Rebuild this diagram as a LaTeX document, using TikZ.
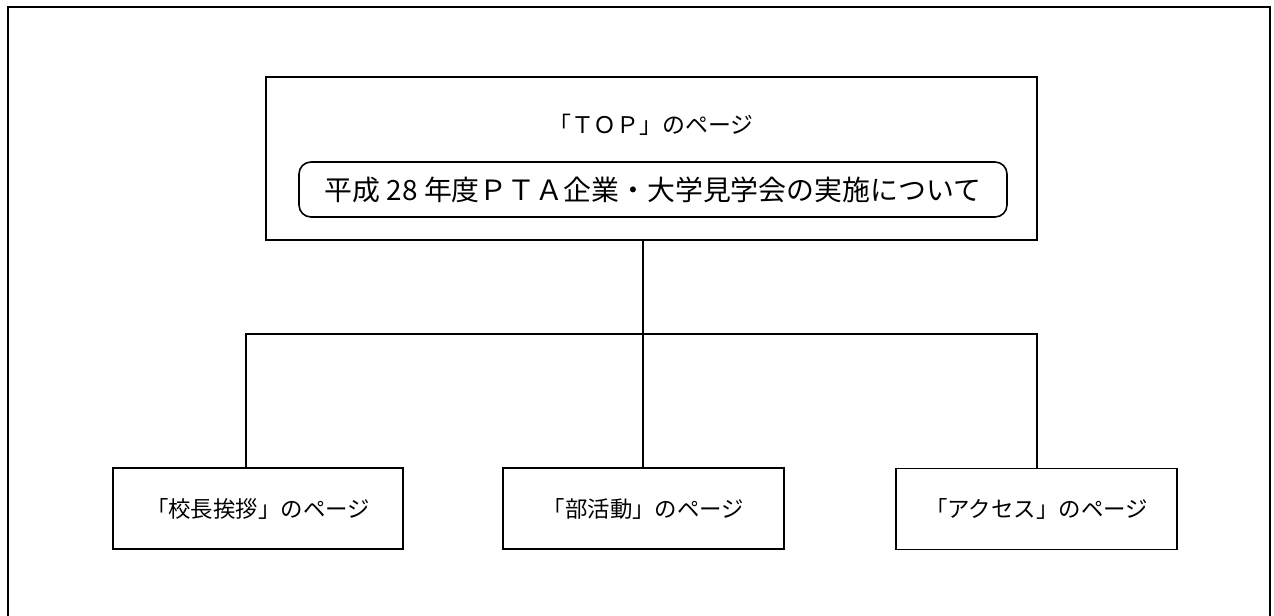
\documentclass[tikz,border=0pt]{standalone}
\usepackage{fontspec}
\newfontfamily\cjk{Noto Sans CJK JP}
\begin{document}
\begin{tikzpicture}[x=1bp,y=-1bp,
  frameline/.style={line width=2.2bp},
  conn/.style={line width=1.8bp},
  pagebox/.style={draw,line width=1.8bp,inner sep=0pt,outer sep=0pt},
  titlebox/.style={draw,line width=1.6bp,rounded corners=12bp,inner sep=0pt,outer sep=0pt},
  bigtext/.style={font=\cjk\fontsize{28}{32}\selectfont},
  midtext/.style={font=\cjk\fontsize{23}{27}\selectfont},
  smalltext/.style={font=\cjk\fontsize{22.5}{26}\selectfont}
]
\useasboundingbox (0,0) rectangle (1274,616);
\fill[white] (0,0) rectangle (1274,616);
% outer frame (open at the bottom edge of the picture)
\coordinate (fbl) at (8,616);
\coordinate (ftl) at (8,7);
\coordinate (ftr) at (1270,7);
\coordinate (fbr) at (1270,616);
\draw[frameline] (fbl) -- (ftl) -- (ftr) -- (fbr);
% top page box
\node[pagebox,minimum width=771bp,minimum height=163bp] (top) at (651.5,158.5) {};
\node[midtext,inner sep=0pt] (toptext) at (651,125) {「ＴＯＰ」のページ};
\node[titlebox,bigtext,minimum width=708bp,minimum height=55bp] (title) at (653,189.5) {平成 28 年度ＰＴＡ企業・大学見学会の実施について};
% child boxes
\node[pagebox,smalltext,minimum width=290bp,minimum height=81bp] (left) at (258,508.5) {「校長挨拶」のページ};
\node[pagebox,smalltext,minimum width=281bp,minimum height=81bp] (mid) at (643.5,508.5) {「部活動」のページ};
\node[pagebox,smalltext,minimum width=281bp,minimum height=81bp] (right) at (1036.5,509) {「アクセス」のページ};
% connectors
\coordinate (jm) at (643,334);
\coordinate (jl) at (246,334);
\coordinate (jr) at (1037,334);
\draw[conn] (top.south -| jm) -- (jm) -- (jm |- mid.north);
\draw[conn] (jl |- left.north) -- (jl) -- (jr) -- (jr |- right.north);
\end{tikzpicture}
\end{document}
